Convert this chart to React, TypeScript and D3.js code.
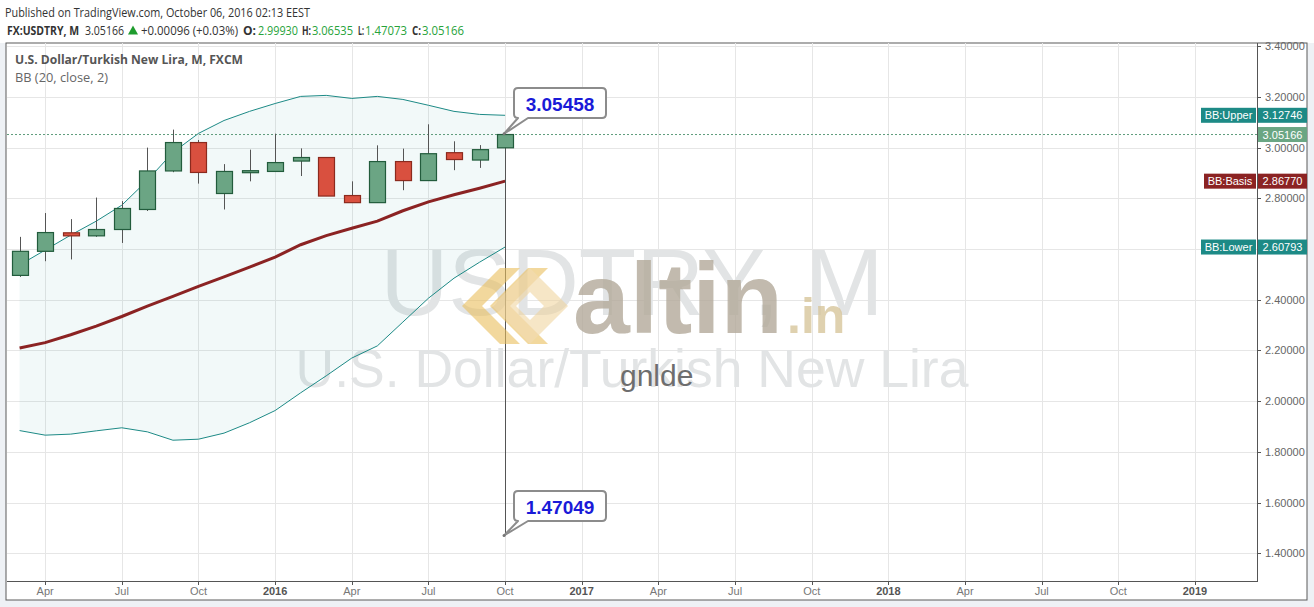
import React from "react";
import * as d3 from "d3";

// ---- data (monthly candles, Mar 2015 .. Oct 2016) ----
const months = [
  "2015-03", "2015-04", "2015-05", "2015-06", "2015-07", "2015-08", "2015-09", "2015-10", "2015-11", "2015-12",
  "2016-01", "2016-02", "2016-03", "2016-04", "2016-05", "2016-06", "2016-07", "2016-08", "2016-09", "2016-10",
];
const openP = [2.496, 2.591, 2.664, 2.652, 2.677, 2.756, 2.908, 3.02, 2.819, 2.905, 2.906, 2.947, 2.961, 2.811, 2.783, 2.945, 2.87, 2.98, 2.951, 2.9993];
const highP = [2.648, 2.742, 2.718, 2.803, 2.789, 3.0, 3.071, 3.03, 2.935, 2.992, 3.055, 2.997, 2.961, 2.867, 3.009, 2.996, 3.092, 3.025, 3.01, 3.06535];
const lowP = [2.49, 2.552, 2.559, 2.648, 2.624, 2.75, 2.903, 2.858, 2.756, 2.867, 2.905, 2.888, 2.809, 2.783, 2.783, 2.832, 2.87, 2.911, 2.92, 1.47073];
const closeP = [2.591, 2.665, 2.652, 2.677, 2.76, 2.908, 3.02, 2.902, 2.906, 2.909, 2.941, 2.961, 2.809, 2.783, 2.945, 2.87, 2.976, 2.953, 2.992, 3.05166];

const upperBand = [2.537, 2.596, 2.655, 2.71, 2.773, 2.871, 2.981, 3.056, 3.107, 3.143, 3.174, 3.202, 3.206, 3.194, 3.202, 3.19, 3.167, 3.143, 3.131, 3.12746];
const basisBand = [2.21, 2.231, 2.262, 2.296, 2.334, 2.375, 2.413, 2.453, 2.49, 2.529, 2.568, 2.617, 2.653, 2.682, 2.71, 2.751, 2.786, 2.814, 2.84, 2.8677];
const lowerBand = [1.884, 1.866, 1.87, 1.883, 1.895, 1.879, 1.846, 1.85, 1.874, 1.915, 1.963, 2.033, 2.1, 2.17, 2.218, 2.312, 2.406, 2.485, 2.548, 2.60793];

const tickIdx = [1, 4, 7, 10, 13, 16, 19, 22, 25, 28, 31, 34, 37, 40, 43, 46];
const tickLabels = ["Apr", "Jul", "Oct", "2016", "Apr", "Jul", "Oct", "2017", "Apr", "Jul", "Oct", "2018", "Apr", "Jul", "Oct", "2019"];
const priceTicks = [1.4, 1.6, 1.8, 2.0, 2.2, 2.4, 2.6, 2.8, 3.0, 3.2, 3.4];

const lastClose = 3.05166;
const calloutHigh = 3.05458;
const calloutLow = 1.47049;

const W = 1314;
const H = 607;
const PL = 7, PR = 1257, PT = 43, PB = 581;
const ARIAL = "'Liberation Sans', Arial, sans-serif";
const OPEN = "'Open Sans', 'Noto Sans', sans-serif";

const teal = "#1d8a86";
const basisCol = "#8b2323";

export default function App() {
  React.useEffect(() => {
    document.body.style.margin = "0";
  }, []);

  const x = d3.scaleLinear().domain([0, 46]).range([19.6, 1195]);
  const y = d3.scaleLinear().domain([1.4, 3.4]).range([553.3, 46.2]);

  const idx = months.map((_, i) => i);
  const lineGen = (arr: number[]) =>
    d3.line<number>().x((i) => x(i)).y((i) => y(arr[i])).curve(d3.curveLinear)(idx) || "";
  const areaPath =
    d3
      .area<number>()
      .x((i) => x(i))
      .y0((i) => y(lowerBand[i]))
      .y1((i) => y(upperBand[i]))(idx) || "";

  const bw = 16;

  const callout = (val: number, boxTop: number, label: string) => {
    const tipX = x(19) - 1;
    const tipY = y(val);
    const x0 = 514, x1 = 606, y0 = boxTop, y1 = boxTop + 30, r = 4;
    const d = `M${x0 + r},${y0} L${x1 - r},${y0} Q${x1},${y0} ${x1},${y0 + r} L${x1},${y1 - r} Q${x1},${y1} ${x1 - r},${y1} L${x0 + 14},${y1} L${tipX},${tipY} L${x0 + 4},${y1} Q${x0},${y1} ${x0},${y1 - r} L${x0},${y0 + r} Q${x0},${y0} ${x0 + r},${y0} Z`;
    return (
      <g>
        <path d={d} fill="#fff" stroke="#8c8c8c" strokeWidth={2} strokeLinejoin="round" />
        <circle cx={tipX} cy={tipY} r={1.5} fill="#777" />
        <text x={(x0 + x1) / 2} y={y0 + 22.5} textAnchor="middle" fontFamily={ARIAL} fontWeight="bold" fontSize={19} fill="#1a1ad8">
          {label}
        </text>
      </g>
    );
  };

  const tag = (x0: number, x1: number, yc: number, fill: string, text: string) => (
    <g>
      <rect x={x0} y={yc - 7.5} width={x1 - x0} height={15} fill={fill} />
      <text x={(x0 + x1) / 2} y={yc + 4} textAnchor="middle" fontFamily={ARIAL} fontSize={11} fill="#fff">
        {text}
      </text>
    </g>
  );

  return (
    <svg width={W} height={H} style={{ position: "absolute", left: 0, top: 0, display: "block" }}>
      <rect x={0} y={0} width={W} height={H} fill="#ffffff" />
      <rect x={0} y={43} width={W} height={H - 43} fill="#eef1f5" />
      <rect x={6} y={43} width={1301} height={557} fill="#ffffff" stroke="#5a5a5a" strokeWidth={1} />

      {/* header */}
      <text x={5} y={17} fontFamily={OPEN} fontSize={13} fill="#333" textLength={305} lengthAdjust="spacingAndGlyphs">
        Published on TradingView.com, October 06, 2016 02:13 EEST
      </text>
      <g fontFamily={OPEN} fontSize={13}>
        <text x={7} y={35} fontWeight="bold" fill="#333" textLength={72} lengthAdjust="spacingAndGlyphs">FX:USDTRY, M</text>
        <text x={85} y={35} fill="#333" textLength={39} lengthAdjust="spacingAndGlyphs">3.05166</text>
        <polygon points="128,34.5 138,34.5 133,25.5" fill="#1f9c2e" />
        <text x={141} y={35} fill="#333" textLength={97} lengthAdjust="spacingAndGlyphs">+0.00096 (+0.03%)</text>
        <text x={243} y={35} fontWeight="bold" fill="#333" textLength={13} lengthAdjust="spacingAndGlyphs">O:</text>
        <text x={258} y={35} fill="#27a33a" textLength={40} lengthAdjust="spacingAndGlyphs">2.99930</text>
        <text x={302} y={35} fontWeight="bold" fill="#333" textLength={9} lengthAdjust="spacingAndGlyphs">H:</text>
        <text x={312} y={35} fill="#27a33a" textLength={41} lengthAdjust="spacingAndGlyphs">3.06535</text>
        <text x={358} y={35} fontWeight="bold" fill="#333" textLength={6} lengthAdjust="spacingAndGlyphs">L:</text>
        <text x={365} y={35} fill="#27a33a" textLength={42} lengthAdjust="spacingAndGlyphs">1.47073</text>
        <text x={412} y={35} fontWeight="bold" fill="#333" textLength={9} lengthAdjust="spacingAndGlyphs">C:</text>
        <text x={422} y={35} fill="#27a33a" textLength={42} lengthAdjust="spacingAndGlyphs">3.05166</text>
      </g>

      {/* grid */}
      <g stroke="#e6e6e6" strokeWidth={1}>
        {priceTicks.map((p) => (
          <line key={"h" + p} x1={PL} x2={PR} y1={Math.round(y(p)) + 0.5} y2={Math.round(y(p)) + 0.5} />
        ))}
        {tickIdx.map((t) => (
          <line key={"v" + t} x1={Math.round(x(t)) + 0.5} x2={Math.round(x(t)) + 0.5} y1={PT} y2={PB} />
        ))}
      </g>

      {/* watermark */}
      <text x={632} y={315} textAnchor="middle" fontFamily={ARIAL} fontSize={94} fill="#e2e4e5">USDTRY, M</text>
      <text x={632} y={387} textAnchor="middle" fontFamily={ARIAL} fontSize={53.5} fill="#e2e4e5">U.S. Dollar/Turkish New Lira</text>

      {/* bands */}
      <path d={areaPath} fill="rgba(40,150,160,0.06)" />
      <path d={lineGen(upperBand)} fill="none" stroke={teal} strokeWidth={1} />
      <path d={lineGen(lowerBand)} fill="none" stroke={teal} strokeWidth={1} />
      <path d={lineGen(basisBand)} fill="none" stroke={basisCol} strokeWidth={3} />

      {/* last price dotted line */}
      <line x1={PL} x2={PR} y1={y(lastClose)} y2={y(lastClose)} stroke="#5f9c7c" strokeWidth={1} strokeDasharray="2,2" />

      {/* candles */}
      {idx.map((i) => {
        const up = closeP[i] >= openP[i];
        const cx = Math.round(x(i)) + 0.5;
        const top = y(Math.max(openP[i], closeP[i]));
        const bot = y(Math.min(openP[i], closeP[i]));
        const h = Math.max(bot - top, 2);
        return (
          <g key={months[i]}>
            <line x1={cx} x2={cx} y1={y(highP[i])} y2={y(lowP[i])} stroke="#555" strokeWidth={1} />
            <rect
              x={cx - bw / 2}
              y={top}
              width={bw}
              height={h}
              fill={up ? "#6ba584" : "#d9503f"}
              stroke={up ? "#225c3c" : "#8c2a1e"}
              strokeWidth={1.2}
            />
          </g>
        );
      })}

      {/* altin.in logo overlay */}
      <g opacity={0.8}>
        <path
          d="M528,268 L548,268 L510,306 L548,344 L528,344 L490,306 Z M500,268 L520,268 L482,306 L520,344 L500,344 L462,306 Z"
          fill="#e9bf5c"
          opacity={0.75}
        />
        <path
          d="M530,268 L568,306 L530,344 L492,306 Z M530,292 L516,306 L530,320 L544,306 Z"
          fill="#efd39b"
          fillRule="evenodd"
          opacity={0.7}
        />
        <text x={573} y={333} fontFamily={ARIAL} fontWeight="bold" fontSize={100} fill="#b3aa9a" textLength={210} lengthAdjust="spacingAndGlyphs">altin</text>
        <text x={787} y={333} fontFamily={ARIAL} fontWeight="bold" fontSize={50} fill="#d8c69c">.in</text>
      </g>
      <text x={620} y={386} fontFamily={ARIAL} fontSize={30} fill="#6e6e6e">gnlde</text>

      {/* legend inside chart */}
      <text x={15} y={64} fontFamily={OPEN} fontSize={13} fontWeight="bold" fill="#555" textLength={228} lengthAdjust="spacingAndGlyphs">
        U.S. Dollar/Turkish New Lira, M, FXCM
      </text>
      <text x={15} y={82} fontFamily={OPEN} fontSize={13} fill="#666" textLength={93} lengthAdjust="spacingAndGlyphs">
        BB (20, close, 2)
      </text>

      {/* callouts */}
      {callout(calloutHigh, 88, "3.05458")}
      {callout(calloutLow, 491, "1.47049")}

      {/* axes */}
      <line x1={PR + 0.5} x2={PR + 0.5} y1={PT} y2={PB + 1} stroke="#555" strokeWidth={1} />
      <line x1={PL} x2={PR + 1} y1={PB + 0.5} y2={PB + 0.5} stroke="#555" strokeWidth={1} />
      {priceTicks.map((p) => (
        <g key={"pt" + p}>
          <line x1={PR} x2={PR + 4} y1={Math.round(y(p)) + 0.5} y2={Math.round(y(p)) + 0.5} stroke="#555" />
          <text x={1265} y={y(p) + 4} fontFamily={ARIAL} fontSize={11} fill="#666">
            {d3.format(".5f")(p)}
          </text>
        </g>
      ))}
      {tickIdx.map((t, k) => (
        <g key={"xt" + t}>
          <line x1={Math.round(x(t)) + 0.5} x2={Math.round(x(t)) + 0.5} y1={PB} y2={PB + 4} stroke="#555" />
          <text
            x={x(t)}
            y={595}
            textAnchor="middle"
            fontFamily={ARIAL}
            fontSize={11}
            fontWeight={/^\d/.test(tickLabels[k]) ? "bold" : "normal"}
            fill={/^\d/.test(tickLabels[k]) ? "#555" : "#777"}
          >
            {tickLabels[k]}
          </text>
        </g>
      ))}

      {/* right side tags */}
      {tag(1201, 1256, y(upperBand[19]), teal, "BB:Upper")}
      {tag(1258, 1307, y(upperBand[19]), teal, d3.format(".5f")(upperBand[19]))}
      {tag(1258, 1307, y(lastClose), "#6aa683", d3.format(".5f")(lastClose))}
      {tag(1204, 1256, y(basisBand[19]), basisCol, "BB:Basis")}
      {tag(1258, 1307, y(basisBand[19]), basisCol, d3.format(".5f")(basisBand[19]))}
      {tag(1201, 1256, y(lowerBand[19]), teal, "BB:Lower")}
      {tag(1258, 1307, y(lowerBand[19]), teal, d3.format(".5f")(lowerBand[19]))}
    </svg>
  );
}
